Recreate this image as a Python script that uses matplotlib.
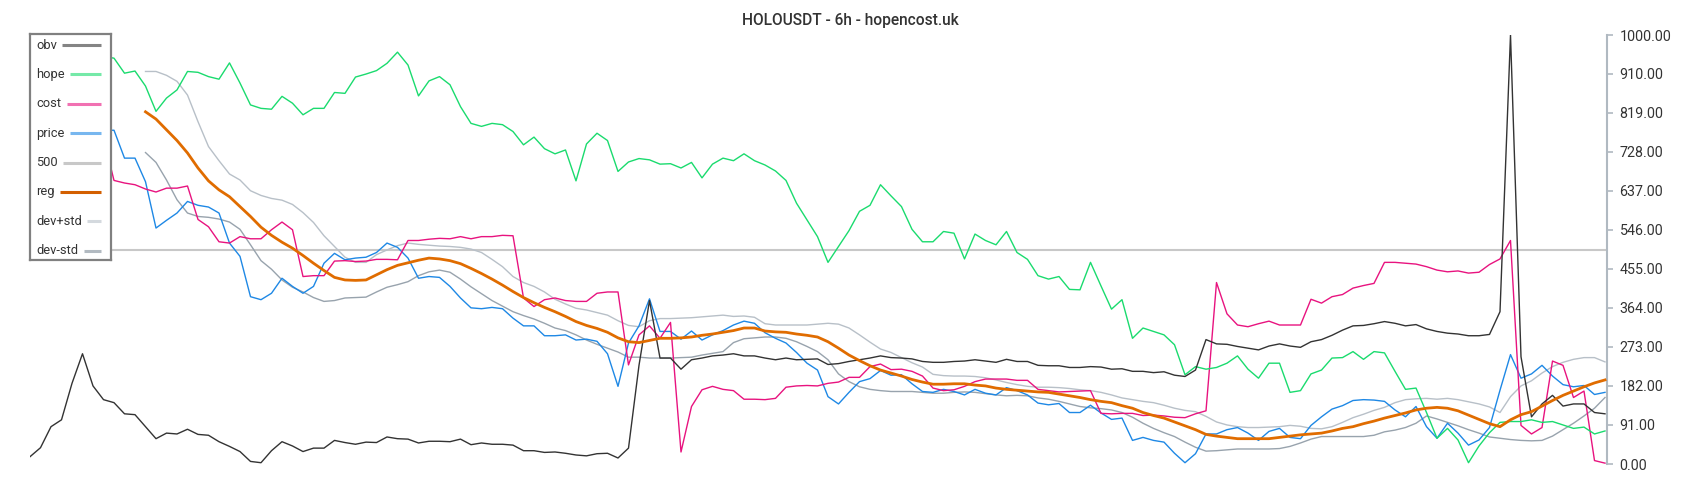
import numpy as np
import matplotlib
matplotlib.use('Agg')
import matplotlib.pyplot as plt

plt.rcParams['font.family'] = ['Roboto', 'DejaVu Sans']

# ---- data (one value per 6h candle slot) ----
title = 'HOLOUSDT - 6h - hopencost.uk'
yticks = [0, 91, 182, 273, 364, 455, 546, 637, 728, 819, 910, 1000]
level = 500          # the "500" reference line

obv = [17, 38, 87, 103, 188, 257, 182, 150, 143, 117,
       115, 87, 59, 72, 70, 81, 69, 67, 52, 41,
       29, 6, 3, 31, 52, 42, 29, 37, 37, 55,
       50, 46, 51, 50, 63, 59, 58, 49, 53, 53,
       52, 58, 45, 49, 46, 46, 44, 31, 31, 27,
       28, 25, 21, 19, 24, 25, 14, 37, 230, 381,
       247, 247, 221, 243, 247, 252, 254, 257, 252, 252,
       247, 243, 247, 243, 244, 245, 232, 234, 239, 243,
       247, 252, 248, 247, 245, 239, 237, 237, 239, 240,
       243, 240, 237, 244, 239, 239, 230, 229, 229, 225,
       225, 227, 226, 221, 222, 216, 216, 213, 215, 207,
       204, 219, 290, 280, 279, 274, 270, 266, 275, 280,
       275, 272, 285, 290, 300, 312, 322, 323, 327, 332,
       328, 322, 325, 315, 309, 305, 303, 299, 299, 302,
       355, 1000, 250, 110, 140, 160, 135, 140, 140, 120,
       117]

# hope / cost / price start a few slots later (hidden behind the legend)
hcp_start = 7
hope = [950, 946, 911, 916, 881, 822, 853, 872, 915, 913,
        903, 897, 935, 888, 837, 829, 827, 857, 841, 814,
        829, 829, 866, 864, 902, 909, 917, 934, 960, 930,
        858, 893, 903, 884, 833, 794, 787, 794, 791, 775,
        744, 762, 735, 723, 732, 660, 746, 771, 754, 682,
        704, 712, 709, 699, 700, 690, 703, 667, 699, 713,
        707, 723, 707, 697, 683, 661, 608, 569, 530, 470,
        507, 544, 589, 603, 651, 625, 600, 547, 518, 518,
        542, 538, 478, 536, 521, 511, 542, 493, 477, 439,
        431, 437, 407, 406, 470, 415, 361, 383, 293, 317,
        309, 301, 278, 208, 227, 221, 225, 235, 252, 221,
        200, 235, 235, 167, 171, 210, 219, 247, 248, 262,
        244, 262, 259, 216, 174, 177, 120, 60, 83, 56,
        3, 42, 73, 97, 99, 99, 103, 97, 99, 91,
        83, 86, 70, 77]

price = [778, 778, 713, 713, 658, 550, 568, 585, 612, 603,
         599, 585, 515, 484, 390, 383, 398, 433, 414, 398,
         414, 468, 491, 476, 480, 482, 493, 515, 505, 480,
         433, 437, 435, 414, 387, 364, 362, 365, 362, 340,
         322, 322, 299, 299, 301, 289, 291, 286, 257, 181,
         282, 322, 385, 309, 309, 291, 310, 289, 301, 311,
         324, 333, 328, 306, 293, 282, 260, 235, 219, 157,
         140, 167, 192, 199, 218, 207, 208, 187, 169, 167,
         174, 169, 161, 174, 165, 161, 178, 171, 161, 142,
         138, 141, 120, 120, 137, 119, 104, 107, 55, 62,
         55, 51, 25, 3, 24, 70, 70, 80, 85, 72,
         55, 76, 83, 62, 59, 90, 110, 128, 136, 148,
         150, 149, 146, 126, 110, 134, 87, 60, 95, 72,
         44, 56, 85, 172, 255, 200, 210, 230, 205, 185,
         180, 183, 162, 167]

cost = [760, 661, 655, 651, 641, 634, 643, 643, 648, 570,
        553, 518, 515, 530, 525, 525, 546, 564, 546, 437,
        439, 439, 473, 474, 472, 473, 477, 477, 476, 521,
        521, 524, 526, 525, 530, 525, 530, 530, 533, 532,
        387, 367, 383, 387, 381, 379, 379, 398, 401, 401,
        231, 301, 322, 293, 330, 28, 134, 173, 181, 174,
        171, 151, 151, 150, 153, 179, 182, 183, 182, 188,
        191, 202, 202, 227, 233, 220, 221, 216, 205, 177,
        171, 173, 181, 192, 198, 198, 198, 195, 195, 174,
        171, 168, 169, 170, 171, 118, 117, 118, 118, 113,
        114, 112, 109, 108, 117, 124, 423, 350, 324, 320,
        327, 333, 324, 324, 324, 384, 375, 390, 395, 410,
        416, 421, 470, 470, 468, 466, 460, 452, 448, 450,
        445, 447, 465, 478, 521, 90, 70, 85, 240, 230,
        155, 170, 8, 2]

# regression line and its +/- std band
band_start = 11
reg = [821, 804, 779, 754, 725, 690, 660, 639, 623, 600,
       577, 552, 533, 517, 503, 486, 468, 451, 435, 429,
       428, 429, 441, 453, 463, 469, 475, 480, 478, 474,
       467, 456, 444, 431, 417, 402, 388, 376, 365, 355,
       344, 332, 323, 316, 307, 294, 285, 283, 288, 293,
       293, 294, 296, 300, 303, 307, 311, 317, 317, 310,
       308, 307, 303, 300, 296, 285, 270, 254, 241, 229,
       219, 212, 205, 197, 191, 186, 186, 187, 187, 184,
       182, 177, 174, 172, 170, 168, 167, 163, 159, 155,
       150, 146, 143, 136, 130, 120, 113, 107, 98, 89,
       80, 69, 65, 62, 59, 59, 59, 59, 62, 65,
       68, 70, 72, 77, 83, 87, 94, 100, 107, 113,
       119, 126, 130, 132, 130, 124, 114, 104, 94, 87,
       103, 115, 122, 135, 148, 160, 170, 180, 189, 196]

dev_plus = [915, 915, 906, 892, 860, 798, 740, 707, 676, 662,
            637, 626, 619, 615, 605, 586, 563, 532, 507, 482,
            470, 470, 488, 499, 509, 515, 512, 510, 508, 507,
            505, 501, 493, 477, 460, 437, 423, 414, 401, 384,
            373, 363, 359, 353, 347, 334, 323, 320, 334, 339,
            339, 340, 341, 343, 345, 347, 344, 345, 342, 327,
            324, 324, 324, 324, 326, 328, 326, 317, 301, 284,
            268, 260, 248, 236, 226, 209, 206, 205, 205, 204,
            201, 196, 190, 185, 181, 179, 179, 178, 176, 173,
            171, 167, 161, 154, 150, 146, 143, 137, 130, 125,
            122, 111, 98, 91, 87, 85, 85, 86, 87, 90,
            88, 83, 82, 87, 97, 108, 116, 125, 132, 143,
            150, 152, 153, 151, 153, 150, 145, 140, 133, 120,
            157, 182, 194, 212, 227, 237, 244, 248, 248, 238]

dev_minus = [726, 703, 662, 616, 585, 577, 575, 571, 564, 547,
             511, 474, 454, 429, 412, 401, 388, 379, 381, 387,
             388, 389, 401, 412, 418, 425, 439, 448, 452, 447,
             431, 413, 397, 381, 368, 355, 346, 338, 328, 317,
             311, 301, 289, 279, 270, 261, 249, 249, 247, 247,
             247, 248, 249, 254, 258, 262, 283, 292, 294, 296,
             296, 293, 285, 274, 262, 243, 210, 192, 180, 174,
             171, 169, 169, 169, 167, 165, 165, 167, 168, 167,
             164, 161, 159, 160, 159, 154, 151, 146, 140, 134,
             131, 129, 126, 120, 109, 95, 83, 73, 64, 51,
             39, 30, 31, 33, 35, 35, 35, 35, 36, 41,
             49, 58, 64, 64, 64, 64, 64, 67, 75, 79,
             85, 95, 112, 105, 97, 89, 80, 72, 63, 60,
             57, 55, 54, 55, 65, 80, 95, 112, 130, 155]

# ---- figure ----
W, H = 1700, 500
slot_px = 10.5        # horizontal spacing between slots, in pixels
fig = plt.figure(figsize=(W / 100, H / 100), dpi=100)
fig.patch.set_facecolor('white')
ax = fig.add_axes([30 / W, 36 / H, 1577 / W, 429 / H])
ax.set_xlim(0, 1577 / slot_px)
ax.set_ylim(0, 1000)

c_obv, c_hope, c_cost, c_price = '#333333', '#1adb6e', '#e8137f', '#1e88e5'
c_500, c_reg, c_devp, c_devm = '#c8c8c8', '#e06c00', '#b8c0c8', '#98a3ad'

x_obv = np.arange(len(obv))
x_hcp = np.arange(hcp_start, hcp_start + len(hope))
x_band = np.arange(band_start, band_start + len(reg))

ax.axhline(level, color=c_500, lw=1.5, zorder=1)
ax.plot(x_band, dev_plus, color=c_devp, lw=1.0, zorder=2)
ax.plot(x_band, dev_minus, color=c_devm, lw=1.0, zorder=2)
ax.plot(x_hcp, price, color=c_price, lw=1.0, zorder=3)
ax.plot(x_hcp, cost, color=c_cost, lw=1.0, zorder=3)
ax.plot(x_hcp, hope, color=c_hope, lw=1.0, zorder=3)
ax.plot(x_obv, obv, color=c_obv, lw=1.0, zorder=4)
ax.plot(x_band, reg, color=c_reg, lw=2.0, zorder=5)

for s in ['top', 'left', 'bottom']:
    ax.spines[s].set_visible(False)
ax.spines['right'].set_color('#b0b9c1')
ax.spines['right'].set_linewidth(1.5)
ax.set_xticks([])
ax.yaxis.tick_right()
ax.set_yticks(yticks)
ax.set_yticklabels(['%.2f' % v for v in yticks])
ax.tick_params(axis='y', direction='out', length=4, width=1.2, color='#b0b9c1',
               labelcolor='#333333', labelsize=10.3, pad=5)

fig.text(0.5, 1 - 21 / H, title, ha='center', va='center',
         fontsize=11.2, fontweight='medium', color='#333333')

# ---- legend: label on the left, line sample running to the right edge ----
lax = fig.add_axes([30 / W, (H - 260) / H, 81 / W, 226 / H])
lax.set_xlim(0, 81)
lax.set_ylim(226, 0)
lax.set_xticks([])
lax.set_yticks([])
lax.set_facecolor('white')
for s in lax.spines.values():
    s.set_color('#808080')
    s.set_linewidth(1.6)

entries = [('obv', c_obv, 0.6), ('hope', c_hope, 0.6), ('cost', c_cost, 0.6),
           ('price', c_price, 0.6), ('500', c_500, 1.0), ('reg', '#d35f00', 1.0),
           ('dev+std', c_devp, 0.6), ('dev-std', c_devm, 0.75)]
fig.canvas.draw()
renderer = fig.canvas.get_renderer()
for k, (name, col, a) in enumerate(entries):
    yy = 11 + 29.4 * k
    t = lax.text(6.5, yy, name, va='center', ha='left', fontsize=9.3, color='#333333')
    bb = t.get_window_extent(renderer)
    x_end = lax.transData.inverted().transform((bb.x1, bb.y0))[0]
    lax.plot([x_end + 5, 70.5], [yy, yy], color=col, lw=2.2, alpha=a,
             solid_capstyle='butt')

fig.savefig('out.png', dpi=100, facecolor='white')
